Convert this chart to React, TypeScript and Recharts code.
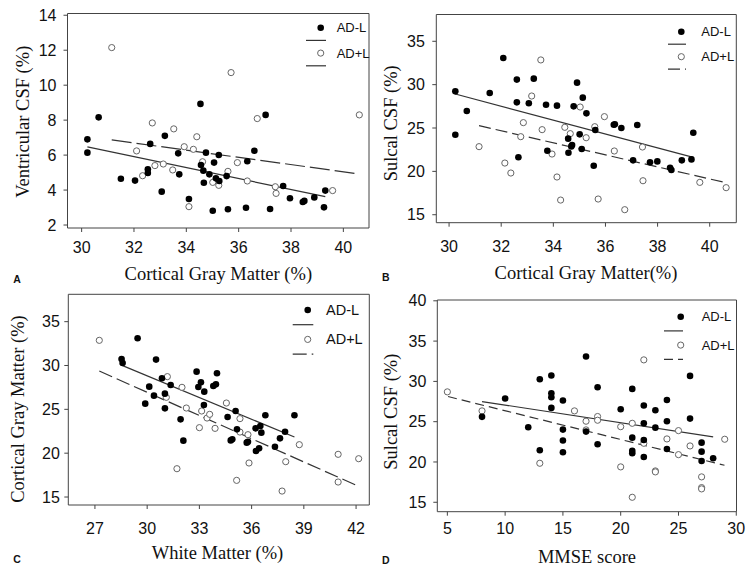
import { ReferenceArea, ReferenceLine, Scatter, ScatterChart, XAxis, YAxis } from "recharts"

// A: ventricular CSF vs cortical gray matter
const aMinusX = [30.22, 30.22, 30.65, 31.5, 32.04, 32.62, 32.53, 32.53, 33.06, 33.18, 33.69, 33.73, 34.1, 34.54, 34.56, 34.65, 34.67, 34.75, 34.88, 35.06, 35.13, 35.26, 35.24, 35.01, 35.54, 35.59, 36.28, 36.33, 36.6, 37.03, 37.2, 37.7, 37.96, 38.45, 38.51, 38.89, 39.26, 39.31]
const aMinusY = [6.9, 6.14, 8.16, 4.65, 4.54, 6.64, 5.19, 4.98, 3.91, 7.1, 6.1, 4.9, 3.49, 8.93, 5.43, 5.11, 4.42, 6.14, 4.9, 5.57, 4.67, 4.52, 6.01, 2.82, 4.8, 2.9, 2.99, 5.65, 6.25, 8.3, 2.92, 4.23, 3.53, 3.32, 3.38, 3.58, 3.01, 3.97]
const aPlusX = [31.15, 32.1, 32.33, 32.7, 32.8, 33.12, 33.48, 33.52, 33.92, 34.1, 34.27, 34.4, 34.62, 35.01, 35.24, 35.59, 35.71, 35.95, 36.33, 36.71, 37.4, 37.43, 39.59, 40.61]
const aPlusY = [12.15, 6.24, 4.82, 7.84, 5.4, 5.49, 5.15, 7.5, 6.48, 3.05, 6.33, 7.05, 5.62, 4.44, 4.27, 5.07, 10.72, 5.57, 4.52, 8.09, 4.19, 3.81, 3.97, 8.3]
const aMinusFitX = [30.22, 39.31]
const aMinusFitY = [6.47, 3.62]
const aPlusFitX = [31.15, 40.61]
const aPlusFitY = [6.87, 4.92]
const aXTicks = [30, 32, 34, 36, 38, 40]
const aYTicks = [2, 4, 6, 8, 10, 12, 14]

// B: sulcal CSF vs cortical gray matter
const bMinusX = [30.24, 30.24, 30.68, 31.56, 32.08, 32.6, 32.6, 32.66, 33.06, 33.25, 33.72, 33.77, 34.14, 34.57, 34.58, 34.69, 34.72, 34.78, 34.91, 35.01, 35.09, 35.13, 35.27, 35.55, 35.61, 36.32, 36.36, 36.61, 37.06, 37.22, 37.71, 37.99, 38.48, 38.53, 38.93, 39.3, 39.37]
const bMinusY = [29.23, 24.23, 26.96, 29.04, 33.08, 30.58, 27.96, 21.62, 27.85, 30.69, 27.69, 22.38, 27.58, 23.77, 22.15, 22.88, 23.04, 27.5, 30.23, 24.27, 22.58, 28.5, 26.69, 20.65, 24.77, 25.38, 25.42, 25.0, 21.27, 25.35, 21.04, 21.15, 20.42, 20.15, 21.27, 21.38, 24.46]
const bPlusX = [31.15, 32.14, 32.37, 32.75, 32.85, 33.17, 33.52, 33.57, 33.95, 34.14, 34.28, 34.44, 34.65, 35.03, 35.26, 35.59, 35.72, 35.96, 36.34, 36.74, 37.42, 37.44, 39.62, 40.63]
const bPlusY = [22.85, 20.96, 19.81, 24.0, 25.62, 28.69, 32.85, 24.81, 22.0, 19.35, 16.69, 25.08, 24.35, 27.42, 23.88, 25.15, 16.81, 26.31, 22.35, 15.58, 22.81, 18.92, 18.73, 18.12]
const bMinusFitX = [30.24, 39.37]
const bMinusFitY = [28.92, 21.62]
const bPlusFitX = [31.15, 40.63]
const bPlusFitY = [25.27, 18.69]
const bXTicks = [30, 32, 34, 36, 38, 40]
const bYTicks = [15, 20, 25, 30, 35]

// C: cortical gray matter vs white matter
const cMinusX = [28.53, 28.59, 29.45, 29.89, 30.12, 30.39, 30.51, 30.85, 31.02, 31.02, 31.35, 31.92, 32.08, 32.84, 32.94, 33.09, 33.28, 33.26, 33.8, 33.95, 34.01, 34.62, 34.8, 34.89, 35.08, 35.16, 35.72, 35.79, 36.23, 36.25, 36.43, 36.5, 36.56, 36.79, 37.34, 37.63, 37.92, 38.46]
const cMinusY = [30.74, 30.29, 33.1, 25.65, 27.59, 26.56, 30.67, 28.54, 26.79, 25.11, 27.78, 23.86, 21.43, 29.3, 27.55, 28.08, 27.02, 25.49, 27.66, 27.85, 29.11, 24.13, 21.46, 21.58, 24.81, 22.72, 21.2, 21.31, 22.83, 20.25, 20.55, 23.1, 22.34, 24.32, 20.74, 21.69, 22.45, 24.32]
const cPlusX = [27.25, 31.16, 31.1, 31.71, 32.0, 32.25, 33.0, 33.13, 33.44, 33.59, 33.9, 34.55, 35.14, 35.33, 35.33, 35.79, 35.85, 37.75, 37.96, 38.74, 40.97, 40.97, 42.15]
const cPlusY = [32.87, 28.73, 26.37, 18.23, 27.51, 25.15, 22.91, 24.81, 24.01, 24.43, 22.83, 25.72, 16.9, 23.94, 22.41, 22.11, 18.88, 15.68, 19.03, 20.97, 19.87, 16.71, 19.37]
const cMinusFitX = [28.59, 38.46]
const cMinusFitY = [29.98, 21.84]
const cPlusFitX = [27.25, 42.15]
const cPlusFitY = [29.37, 16.22]
const cXTicks = [27, 30, 33, 36, 39, 42]
const cYTicks = [15, 20, 25, 30, 35]

// D: sulcal CSF vs MMSE
const dMinusX = [8, 10, 12, 13, 13, 14, 14, 14, 14, 15, 15, 15, 15, 17, 17, 18, 18, 20, 21, 21, 21, 21, 22, 22, 22, 22, 23, 23, 24, 24, 24, 26, 26, 27, 27, 27, 28]
const dMinusY = [25.6, 27.87, 24.31, 30.27, 21.46, 30.73, 28.53, 28.04, 26.71, 27.62, 24.02, 22.66, 21.21, 33.09, 23.77, 29.28, 22.2, 26.55, 29.07, 23.02, 21.4, 21.08, 27.0, 24.8, 22.73, 20.62, 26.42, 24.26, 27.7, 25.06, 21.61, 30.68, 25.38, 22.4, 21.28, 20.13, 20.46]
const dPlusX = [5, 8, 13, 16, 17, 17, 18, 18, 20, 20, 21, 21, 22, 22, 23, 23, 24, 25, 25, 26, 27, 27, 27, 29]
const dPlusY = [28.7, 26.34, 19.84, 26.34, 25.06, 23.98, 25.64, 25.18, 24.38, 19.39, 24.8, 15.62, 32.67, 22.32, 18.89, 18.77, 22.86, 23.89, 20.91, 21.99, 18.15, 16.82, 16.66, 22.82]
const dMinusFitX = [8, 28]
const dMinusFitY = [27.5, 23.11]
const dPlusFitX = [5.06, 28.98]
const dPlusFitY = [28.12, 19.59]
const dXTicks = [5, 10, 15, 20, 25, 30]
const dYTicks = [15, 20, 25, 30, 35, 40]

const sans = "'Liberation Sans', Arial, sans-serif"
const serif = "'Liberation Serif', 'Times New Roman', serif"

const pts = (xs: number[], ys: number[]) => xs.map((x, i) => ({ x, y: ys[i] }))
const seg = (xs: number[], ys: number[]) => [{ x: xs[0], y: ys[0] }, { x: xs[1], y: ys[1] }]

const Filled = (p: any) => <circle cx={p.cx} cy={p.cy} r={3.3} fill="#000" />
const Open = (p: any) => <circle cx={p.cx} cy={p.cy} r={3.1} fill="#fff" stroke="#666" strokeWidth={1} />

type Cfg = {
  left: number
  top: number
  height: number
  box: number[] // plot left, top, right, bottom (page px)
  xDomain: number[]
  yDomain: number[]
  xTicks: number[]
  yTicks: number[]
  xGap: number
  yGap: number
  minus: { x: number; y: number }[]
  plus: { x: number; y: number }[]
  minusFit: { x: number; y: number }[]
  plusFit: { x: number; y: number }[]
  dash: string
  xTitle: [string, number, number]
  yTitle: [string, number, number]
  letter: [string, number, number]
  key: { x: number; len: number; dot: number; text: number; y: number; gap: number; size: number }
}

function Panel({ c }: { c: Cfg }) {
  const W = 378
  const [bl, bt, br, bb] = c.box
  const ox = c.left
  const oy = c.top
  const margin = {
    top: bt - oy,
    right: ox + W - br,
    bottom: oy + c.height - bb - 30,
    left: bl - ox - 40,
  }
  const tick = { fill: "#111", fontSize: 16, fontFamily: sans }

  const xLabel = () => (
    <g>
      <text x={c.xTitle[1] - ox} y={c.xTitle[2] - oy} textAnchor="middle" fontFamily={serif} fontSize={18.5} fill="#111">
        {c.xTitle[0]}
      </text>
      <text x={c.letter[1] - ox} y={c.letter[2] - oy} fontFamily={sans} fontWeight="bold" fontSize={10.5} fill="#111">
        {c.letter[0]}
      </text>
    </g>
  )
  const yLabel = () => {
    const cx = c.yTitle[1] - ox
    const cy = c.yTitle[2] - oy
    return (
      <text
        x={cx}
        y={cy}
        transform={`rotate(-90 ${cx} ${cy})`}
        textAnchor="middle"
        dominantBaseline="central"
        fontFamily={serif}
        fontSize={18.5}
        fill="#111"
      >
        {c.yTitle[0]}
      </text>
    )
  }

  const k = c.key
  const ky = (i: number) => k.y + i * k.gap - oy

  return (
    <div style={{ position: "absolute", left: ox, top: oy, width: W, height: c.height }}>
      <ScatterChart width={W} height={c.height} margin={margin}>
        <XAxis
          type="number"
          dataKey="x"
          domain={c.xDomain}
          ticks={c.xTicks}
          allowDataOverflow
          interval={0}
          height={30}
          axisLine={false}
          tickLine={{ stroke: "#444" }}
          tickSize={4}
          tickMargin={c.xGap}
          tick={tick}
          label={xLabel}
        />
        <YAxis
          type="number"
          dataKey="y"
          domain={c.yDomain}
          ticks={c.yTicks}
          allowDataOverflow
          interval={0}
          width={40}
          axisLine={false}
          tickLine={{ stroke: "#444" }}
          tickSize={4}
          tickMargin={c.yGap}
          tick={tick}
          label={yLabel}
        />
        <ReferenceArea
          x1={c.xDomain[0]}
          x2={c.xDomain[1]}
          y1={c.yDomain[0]}
          y2={c.yDomain[1]}
          fill="none"
          stroke="#444"
          strokeWidth={1}
        />
        <ReferenceLine segment={c.minusFit} stroke="#333" strokeWidth={1.2} ifOverflow="visible" />
        <ReferenceLine segment={c.plusFit} stroke="#333" strokeWidth={1.2} strokeDasharray={c.dash} ifOverflow="visible" />
        <Scatter name="AD+L" data={c.plus} shape={Open} isAnimationActive={false} />
        <Scatter name="AD-L" data={c.minus} shape={Filled} isAnimationActive={false} />
      </ScatterChart>
      <svg width={W} height={c.height} style={{ position: "absolute", left: 0, top: 0, pointerEvents: "none" }}>
        <circle cx={k.x + k.dot - ox} cy={ky(0)} r={3.3} fill="#000" />
        <text x={k.x + k.text - ox} y={ky(0)} dominantBaseline="central" fontFamily={sans} fontSize={k.size} fill="#111">
          AD-L
        </text>
        <line x1={k.x - ox} x2={k.x + k.len - ox} y1={ky(1)} y2={ky(1)} stroke="#333" strokeWidth={1.2} />
        <circle cx={k.x + k.dot - ox} cy={ky(2)} r={3.1} fill="#fff" stroke="#666" />
        <text x={k.x + k.text - ox} y={ky(2)} dominantBaseline="central" fontFamily={sans} fontSize={k.size} fill="#111">
          AD+L
        </text>
        <line x1={k.x - ox} x2={k.x + k.len - ox} y1={ky(3)} y2={ky(3)} stroke="#333" strokeWidth={1.2} strokeDasharray={c.dash} />
      </svg>
    </div>
  )
}

const panels: Cfg[] = [
  {
    left: 0,
    top: 0,
    height: 286,
    box: [67.5, 13.5, 369, 228],
    xDomain: [29.46, 40.98],
    yDomain: [1.83, 14.1],
    xTicks: aXTicks,
    yTicks: aYTicks,
    xGap: 9.7,
    yGap: 7,
    minus: pts(aMinusX, aMinusY),
    plus: pts(aPlusX, aPlusY),
    minusFit: seg(aMinusFitX, aMinusFitY),
    plusFit: seg(aPlusFitX, aPlusFitY),
    dash: "20 5",
    xTitle: ["Cortical Gray Matter (%)", 218.3, 280],
    yTitle: ["Ventricular CSF (%)", 23.5, 121.7],
    letter: ["A", 13.3, 283.3],
    key: { x: 306, len: 20, dot: 14.7, text: 30.7, y: 27.7, gap: 12.7, size: 13 },
  },
  {
    left: 378,
    top: 0,
    height: 286,
    box: [436.3, 14.5, 736.3, 222.7],
    xDomain: [29.51, 41.02],
    yDomain: [14.08, 38.09],
    xTicks: bXTicks,
    yTicks: bYTicks,
    xGap: 14,
    yGap: 7.5,
    minus: pts(bMinusX, bMinusY),
    plus: pts(bPlusX, bPlusY),
    minusFit: seg(bMinusFitX, bMinusFitY),
    plusFit: seg(bPlusFitX, bPlusFitY),
    dash: "12 5",
    xTitle: ["Cortical Gray Matter(%)", 586, 279],
    yTitle: ["Sulcal CSF (%)", 390.8, 123.3],
    letter: ["B", 382, 280.7],
    key: { x: 668, len: 18, dot: 13.3, text: 33.3, y: 31.7, gap: 12.5, size: 13 },
  },
  {
    left: 0,
    top: 286,
    height: 287,
    box: [68.3, 294.3, 369.3, 505],
    xDomain: [25.47, 42.76],
    yDomain: [14.09, 38.12],
    xTicks: cXTicks,
    yTicks: cYTicks,
    xGap: 13.3,
    yGap: 4.5,
    minus: pts(cMinusX, cMinusY),
    plus: pts(cPlusX, cPlusY),
    minusFit: seg(cMinusFitX, cMinusFitY),
    plusFit: seg(cPlusFitX, cPlusFitY),
    dash: "14 5",
    xTitle: ["White Matter (%)", 217.5, 559],
    yTitle: ["Cortical Gray Matter (%)", 17.5, 409],
    letter: ["C", 13.3, 563.3],
    key: { x: 292.7, len: 20.6, dot: 15, text: 33.3, y: 310, gap: 14.7, size: 14.5 },
  },
  {
    left: 378,
    top: 286,
    height: 287,
    box: [437.3, 300, 736.5, 511.7],
    xDomain: [4.13, 30.02],
    yDomain: [13.83, 40.1],
    xTicks: dXTicks,
    yTicks: dYTicks,
    xGap: 6.6,
    yGap: 7,
    minus: pts(dMinusX, dMinusY),
    plus: pts(dPlusX, dPlusY),
    minusFit: seg(dMinusFitX, dMinusFitY),
    plusFit: seg(dPlusFitX, dPlusFitY),
    dash: "9 5",
    xTitle: ["MMSE score", 587, 563.3],
    yTitle: ["Sulcal CSF (%)", 390.8, 411.7],
    letter: ["D", 382, 564.3],
    key: { x: 664, len: 19, dot: 16.7, text: 37.7, y: 316.7, gap: 14.2, size: 13 },
  },
]

export default function App() {
  return (
    <div style={{ position: "absolute", left: 0, top: 0, width: 756, height: 573, background: "#fff", overflow: "hidden" }}>
      {panels.map((c) => (
        <Panel key={c.letter[0]} c={c} />
      ))}
    </div>
  )
}
